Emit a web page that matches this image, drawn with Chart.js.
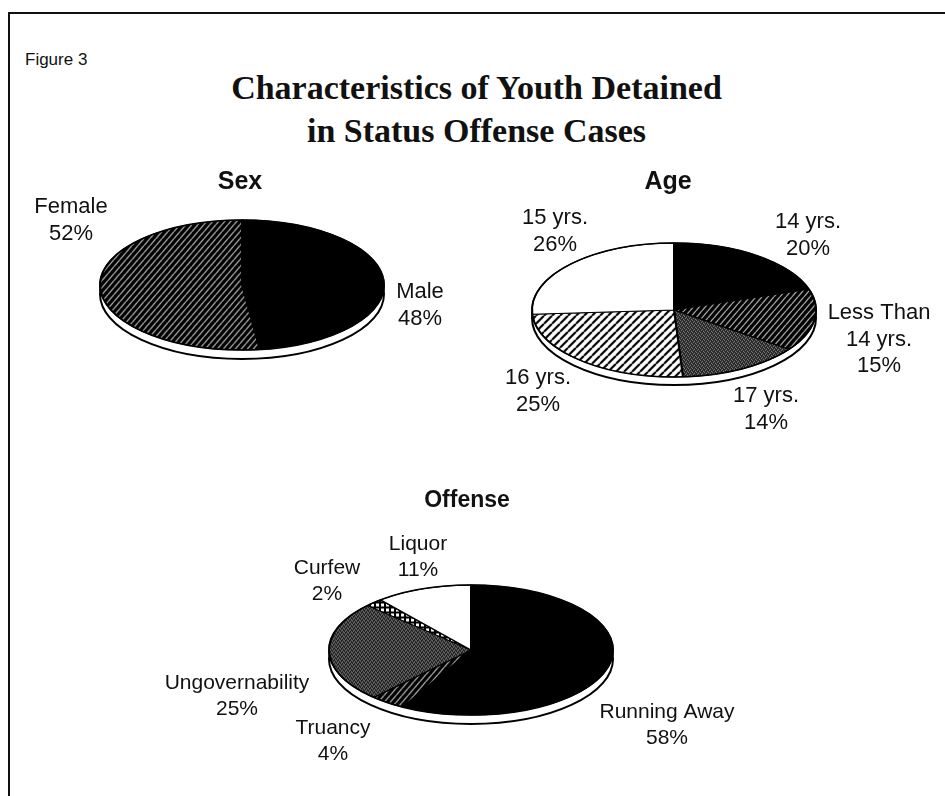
<!DOCTYPE html>
<html>
<head>
<meta charset="utf-8">
<title>Characteristics of Youth Detained in Status Offense Cases</title>
<script src="https://cdn.jsdelivr.net/npm/chart.js@4.4.0/dist/chart.umd.min.js"></script>
<style>
    body { margin: 0; width: 945px; height: 796px; overflow: hidden; position: relative; background: #fff; color: #111; }
    #frame { position: absolute; left: 8px; top: 12px; width: 945px; height: 800px; border-top: 2px solid #111; border-left: 2px solid #111; }
    #fig { position: absolute; left: 25px; top: 50px; font: 17px 'Liberation Sans', Arial, sans-serif; }
    h1 { position: absolute; left: 4px; top: 66px; width: 945px; margin: 0; text-align: center; font: bold 34px/43px 'Liberation Serif', 'Times New Roman', serif; }
    canvas { position: absolute; left: 0; top: 0; }
</style>
</head>
<body>
<div id="frame"></div>
<div id="fig">Figure 3</div>
<h1>Characteristics of Youth Detained<br>in Status Offense Cases</h1>
<canvas id="sexChart" width="945" height="796"></canvas>
<canvas id="ageChart" width="945" height="796"></canvas>
<canvas id="offenseChart" width="945" height="796"></canvas>

<script>
// Data (percent of detained youth), clockwise from 12 o'clock
const sexLabels = [['Male'], ['Female']];
const sexValues = [48, 52];

const ageLabels = [['14 yrs.'], ['Less Than', '14 yrs.'], ['17 yrs.'], ['16 yrs.'], ['15 yrs.']];
const ageValues = [20, 15, 14, 25, 26];

const offenseLabels = [['Running Away'], ['Truancy'], ['Ungovernability'], ['Curfew'], ['Liquor']];
const offenseValues = [58, 4, 25, 2, 11];

const W = 945, H = 796;

// Fill textures
function hatchTile(bg, fg, w, h, lw) {
    const c = document.createElement('canvas');
    c.width = w; c.height = h;
    const g = c.getContext('2d');
    g.fillStyle = bg;
    g.fillRect(0, 0, w, h);
    g.strokeStyle = fg;
    g.lineWidth = lw;
    g.beginPath();
    for (let i = -1; i <= 1; i++) {
        g.moveTo(i * w, h);
        g.lineTo((i + 1) * w, 0);
    }
    g.stroke();
    return c;
}

function stippleTile() {
    const c = document.createElement('canvas');
    c.width = 4; c.height = 4;
    const g = c.getContext('2d');
    g.fillStyle = '#262626';
    g.fillRect(0, 0, 4, 4);
    g.fillStyle = '#909090';
    [[0, 0], [2, 1], [1, 2], [3, 3]].forEach(p => g.fillRect(p[0], p[1], 1, 1));
    return c;
}

function boxTile() {
    const c = document.createElement('canvas');
    c.width = 5; c.height = 5;
    const g = c.getContext('2d');
    g.fillStyle = '#000';
    g.fillRect(0, 0, 5, 5);
    g.fillStyle = '#fff';
    g.fillRect(1, 1, 3, 3);
    return c;
}

function pattern(canvasId, tile, k) {
    const p = document.getElementById(canvasId).getContext('2d').createPattern(tile, 'repeat');
    // undo the vertical squash so the texture stays upright on screen
    p.setTransform(new DOMMatrix().scale(1, 1 / k));
    return p;
}

const darkHatch = hatchTile('#000', 'rgba(255,255,255,0.8)', 6, 7, 1.1);
const lightHatch = hatchTile('#fff', '#000', 8, 8, 2.2);

// Tilted-pie look: squash the disc into an ellipse and draw a thin rim under it
const tiltPlugin = {
    id: 'tilt',
    beforeDatasetsDraw(chart) {
        const t = chart.options.plugins.tilt;
        const arc = chart.getDatasetMeta(0).data[0];
        const ctx = chart.ctx;
        ctx.save();
        ctx.fillStyle = '#fff';
        ctx.strokeStyle = '#000';
        ctx.lineWidth = 2;
        ctx.beginPath();
        ctx.ellipse(arc.x, arc.y + t.depth, arc.outerRadius, arc.outerRadius * t.k, 0, 0, Math.PI * 2);
        ctx.fill();
        ctx.stroke();
        ctx.restore();

        ctx.save();
        ctx.translate(arc.x, arc.y);
        ctx.scale(1, t.k);
        ctx.translate(-arc.x, -arc.y);
    },
    afterDatasetsDraw(chart) {
        const t = chart.options.plugins.tilt;
        const arc = chart.getDatasetMeta(0).data[0];
        const ctx = chart.ctx;
        ctx.restore();
        ctx.save();
        ctx.strokeStyle = '#000';
        ctx.lineWidth = 1.5;
        ctx.beginPath();
        ctx.ellipse(arc.x, arc.y, arc.outerRadius, arc.outerRadius * t.k, 0, 0, Math.PI * 2);
        ctx.stroke();
        ctx.restore();
    },
    afterDraw(chart) {
        const t = chart.options.plugins.tilt;
        const ctx = chart.ctx;
        const labels = chart.data.labels;
        const values = chart.data.datasets[0].data;
        ctx.save();
        ctx.fillStyle = '#111';
        ctx.textAlign = 'center';
        ctx.textBaseline = 'middle';
        ctx.font = 'bold ' + t.titleSize + 'px "Liberation Sans", Arial, sans-serif';
        ctx.fillText(t.title, t.titlePos[0], t.titlePos[1]);
        ctx.font = t.fontSize + 'px "Liberation Sans", Arial, sans-serif';
        labels.forEach((lines, i) => {
            const all = lines.concat([values[i] + '%']);
            all.forEach((s, j) => ctx.fillText(s, t.labelPos[i][0], t.labelPos[i][1] + j * 26.5));
        });
        ctx.restore();
    }
};

function tiltedPie(id, labels, values, fills, geo, extra) {
    return new Chart(document.getElementById(id), {
        type: 'pie',
        data: {
            labels: labels,
            datasets: [{
                data: values,
                backgroundColor: fills,
                borderColor: '#000',
                borderWidth: 2,
                radius: geo.r
            }]
        },
        options: {
            responsive: false,
            animation: false,
            events: [],
            layout: {
                padding: {
                    left: geo.cx - geo.r,
                    right: W - geo.cx - geo.r,
                    top: geo.cy - geo.r,
                    bottom: H - geo.cy - geo.r
                }
            },
            plugins: {
                legend: { display: false },
                tooltip: { enabled: false },
                tilt: Object.assign({ k: geo.k, depth: geo.depth }, extra)
            }
        },
        plugins: [tiltPlugin]
    });
}

document.addEventListener('DOMContentLoaded', function () {
    // Sex
    const sexGeo = { cx: 242, cy: 285, r: 142, k: 65 / 142, depth: 9 };
    tiltedPie('sexChart', sexLabels, sexValues, [
        '#000',
        pattern('sexChart', darkHatch, sexGeo.k)
    ], sexGeo, {
        title: 'Sex', titlePos: [240, 182], titleSize: 25, fontSize: 22,
        labelPos: [[420, 292], [71, 207]]
    });

    // Age
    const ageGeo = { cx: 674, cy: 310, r: 142, k: 67 / 142, depth: 8 };
    tiltedPie('ageChart', ageLabels, ageValues, [
        '#000',
        pattern('ageChart', darkHatch, ageGeo.k),
        pattern('ageChart', stippleTile(), ageGeo.k),
        pattern('ageChart', lightHatch, ageGeo.k),
        '#fff'
    ], ageGeo, {
        title: 'Age', titlePos: [668, 182], titleSize: 25, fontSize: 22,
        labelPos: [[808, 222], [879, 313], [766, 396], [538, 378], [555, 218]]
    });

    // Offense
    const offGeo = { cx: 471, cy: 650, r: 142, k: 65 / 142, depth: 9 };
    tiltedPie('offenseChart', offenseLabels, offenseValues, [
        '#000',
        pattern('offenseChart', darkHatch, offGeo.k),
        pattern('offenseChart', stippleTile(), offGeo.k),
        pattern('offenseChart', boxTile(), offGeo.k),
        '#fff'
    ], offGeo, {
        title: 'Offense', titlePos: [467, 501], titleSize: 23, fontSize: 21,
        labelPos: [[667, 712], [333, 728], [237, 683], [327, 568], [418, 544]]
    });
});
</script>
</body>
</html>
